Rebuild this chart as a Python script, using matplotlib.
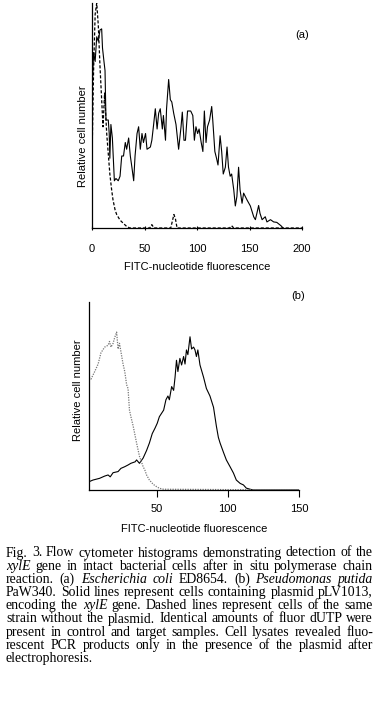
import numpy as np
import matplotlib
matplotlib.use('Agg')
import matplotlib.pyplot as plt

# ---- panel (a): E. coli ----
a_solid_x = [0, 1.5, 3, 4.5, 6, 7.6, 9.2, 10, 11.4, 12.4, 13.3, 15.5, 16.4, 17, 18, 19.4, 20.3,
             21.3, 22.8, 25, 26.7, 28.3, 30, 31.7, 33, 34.9, 36.5, 38, 39.7, 41, 42.9, 44.4, 46,
             47.6, 49, 51, 52.4, 55.6, 57, 58.7, 60.3, 62, 63.5, 65, 67, 68, 70, 71, 73, 74.6,
             76, 77.8, 80, 82.5, 84.8, 86, 87.6, 89, 91, 94, 96, 97.5, 99, 100.6, 102, 104,
             105.6, 107, 108.6, 110, 112, 114, 115, 117, 118.6, 120, 122, 123.5, 125, 127,
             128.6, 130, 131.6, 133, 135, 136.5, 138, 139.6, 141, 142.9, 144.4, 146, 147.6,
             150.8, 154, 155.6, 157, 158.7, 160, 162, 165, 166.6, 170, 173, 176, 180, 182]
a_solid_y = [60, 78, 74, 85, 83, 88, 88.5, 80, 74, 70, 48, 48, 42, 31, 46, 40, 31,
             21, 22, 21, 23, 32, 32, 38, 35, 40, 32, 27, 21, 32, 42, 45, 35,
             42, 38, 42, 35, 36, 39, 46, 53, 44, 51, 53, 44, 50, 39, 53, 66, 57,
             56, 51, 46, 35, 45, 51.5, 39, 39, 52, 52, 50, 39, 45, 42, 44, 38,
             34, 52, 38, 45, 48, 54, 48, 34, 31, 28, 41, 34, 24, 27,
             36, 27, 23, 24, 17, 9.8, 14, 27, 17, 11, 15.5, 14, 12.5,
             9.8, 5, 3.7, 6.5, 10, 6.5, 3.7, 5, 2.7, 3.7, 2.7, 2.5, 1, 0]
a_dash_x = [0, 1.5, 3, 4.5, 6, 7.6, 9.2, 10.5, 12, 14, 15.5, 17, 18.7, 20, 22, 23.5, 26.7,
            30, 33, 36, 55, 57, 59, 75, 77, 78, 79.5, 81, 131, 133, 135, 200]
a_dash_y = [30, 70, 95, 100, 90, 72, 57, 45, 60, 42, 33, 24, 17, 12.5, 8, 6, 3.5,
            2, 0.7, 0, 0, 1.5, 0, 0, 4, 6, 4, 0, 0, 1, 0, 0]

# ---- panel (b): P. putida ----
b_solid_x = [2.6, 5.4, 10, 13.6, 16, 17.5, 19.5, 23, 25, 27.7, 30, 32, 35, 36, 38, 40.6, 43, 45,
             47, 49, 50.5, 52, 55, 56.6, 58, 59, 60.6, 62, 63, 64, 65, 66.4, 67.6, 69, 70, 71, 72,
             73.5, 74.6, 76, 77, 78, 79, 80.5, 83, 85, 87.5, 90, 92, 93.4, 94.6, 97, 99, 101.6,
             104, 106, 108.7, 111, 113, 115.7, 118, 150]
b_solid_y = [4.4, 5.3, 6.2, 7.4, 8, 7, 9.2, 9.8, 11.5, 12.4, 13.3, 14.2, 15, 16, 14.2, 17, 21, 25,
             30, 33, 35.5, 39, 42.5, 48, 50, 48, 55, 53, 60, 69, 63, 70, 66.5, 71, 67, 74.5, 72,
             81.5, 75, 76, 74.5, 71, 74.5, 66.5, 60, 54, 50, 44, 34, 28, 25, 20, 16, 12.4,
             9, 5.3, 3.5, 2.7, 1, 0.4, 0, 0]
b_dot_x = [2.6, 4, 6.6, 9, 11, 13.6, 16, 17, 18, 19.5, 20.6, 22, 23, 24, 25, 26.5, 27.7, 29, 30,
           31, 32, 33.6, 36, 38, 39.4, 40.6, 41.8, 43, 45, 47.7, 50, 52, 55, 150]
b_dot_y = [60, 59, 63, 67, 73, 76, 77, 79, 76, 78, 81, 84, 75, 78, 73.6, 67, 63, 56, 54,
           42.5, 39, 34, 25, 18, 15, 12.4, 10.6, 8, 5.3, 3, 1.8, 0.9, 0.4, 0]

caption_lines = [
    "Fig. 3. Flow cytometer histograms demonstrating detection of the",
    "*xylE gene in intact bacterial cells after in situ polymerase chain",
    "reaction. (a) *Escherichia *coli ED8654. (b) *Pseudomonas *putida",
    "PaW340. Solid lines represent cells containing plasmid pLV1013,",
    "encoding the *xylE gene. Dashed lines represent cells of the same",
    "strain without the plasmid. Identical amounts of fluor dUTP were",
    "present in control and target samples. Cell lysates revealed fluo-",
    "rescent PCR products only in the presence of the plasmid after",
    "electrophoresis.",
]

plt.rcParams['font.family'] = ['Liberation Sans', 'DejaVu Sans']
W, H = 382, 706
fig = plt.figure(figsize=(W / 100, H / 100), dpi=100)


def frac(l, t, r, b):
    return [l / W, 1 - b / H, (r - l) / W, (b - t) / H]


def style(ax):
    for s in ['top', 'right']:
        ax.spines[s].set_visible(False)
    for s in ['left', 'bottom']:
        ax.spines[s].set_linewidth(0.9)
    ax.set_yticks([])
    ax.tick_params(axis='x', labelsize=8, width=0.8)


# (a)
ax1 = fig.add_axes(frac(92, 3, 302, 228))
ax1.plot(a_solid_x, a_solid_y, color='black', lw=0.8)
ax1.plot(a_dash_x, a_dash_y, color='black', lw=0.9, ls=(0, (2.5, 1.5)))
ax1.set_xlim(0, 200)
ax1.set_ylim(0, 100)
ax1.set_xticks([0, 50, 100, 150, 200])
ax1.tick_params(axis='x', length=2.5, direction='inout', pad=10)
style(ax1)
ax1.set_xlabel('FITC-nucleotide fluorescence', fontsize=8, labelpad=6)
ax1.set_ylabel('Relative cell number', fontsize=8)
ax1.yaxis.set_label_coords(-0.02, 0.41)
fig.text(302 / W, 1 - 35 / H, '(a)', fontsize=8, ha='center', va='center')

# (b)
ax2 = fig.add_axes(frac(89, 302, 299, 490))
ax2.plot(b_solid_x, b_solid_y, color='black', lw=0.8)
ax2.plot(b_dot_x, b_dot_y, color='#777777', lw=0.9, ls=(0, (1, 1)))
ax2.set_xlim(2.6, 150)
ax2.set_ylim(0, 100)
ax2.set_xticks([50, 100, 150])
ax2.tick_params(axis='x', length=5, direction='out', pad=5)
style(ax2)
ax2.set_xlabel('FITC-nucleotide fluorescence', fontsize=8, labelpad=7)
ax2.set_ylabel('Relative cell number', fontsize=8)
ax2.yaxis.set_label_coords(-0.03, 0.53)
fig.text(298 / W, 1 - 296 / H, '(b)', fontsize=8, ha='center', va='center')

# caption, justified word by word
serif = ['Liberation Serif', 'DejaVu Serif']
x0, x1 = 6, 373
y_first, dy = 553, 13.2
fig.canvas.draw()
rend = fig.canvas.get_renderer()
for i, line in enumerate(caption_lines):
    y = 1 - (y_first + i * dy) / H
    words = line.split(' ')
    arts = []
    for w in words:
        it = w.startswith('*')
        t = fig.text(0, y, w.lstrip('*'), family=serif, fontsize=9.9,
                     style='italic' if it else 'normal', va='center', ha='left')
        arts.append(t)
    widths = [a.get_window_extent(rend).width for a in arts]
    if i == len(caption_lines) - 1:
        gap = 3.0
    else:
        gap = (x1 - x0 - sum(widths)) / (len(arts) - 1)
    x = x0
    for a, wdt in zip(arts, widths):
        a.set_x(x / W)
        x += wdt + gap

fig.savefig('out.png', dpi=100)
